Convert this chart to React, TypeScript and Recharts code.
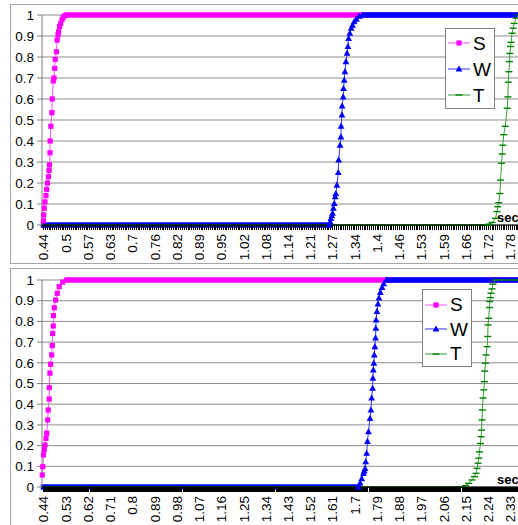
import React from "react";
import { LineChart, Line, XAxis, YAxis, CartesianGrid, Legend } from "recharts";

type Pt = [number, number];

const FONT = "Arial, 'Liberation Sans', sans-serif";

const yTicks = [0, 0.1, 0.2, 0.3, 0.4, 0.5, 0.6, 0.7, 0.8, 0.9, 1];
const yTickLabels = ["0", "0.1", "0.2", "0.3", "0.4", "0.5", "0.6", "0.7", "0.8", "0.9", "1"];

const topXLabels = [
  "0.44", "0.5", "0.57", "0.63", "0.7", "0.76", "0.82", "0.89", "0.95", "1.02", "1.08",
  "1.14", "1.21", "1.27", "1.34", "1.4", "1.46", "1.53", "1.59", "1.66", "1.72", "1.78",
];
const bottomXLabels = [
  "0.44", "0.53", "0.62", "0.71", "0.8", "0.89", "0.98", "1.07", "1.16", "1.25", "1.34",
  "1.43", "1.52", "1.61", "1.7", "1.79", "1.88", "1.97", "2.06", "2.15", "2.24", "2.33",
];

// top chart (seconds, share)
const topSRise: Pt[] = [
  [0.44, 0.02], [0.4405, 0.048], [0.442, 0.08], [0.444, 0.11], [0.447, 0.14], [0.449, 0.17],
  [0.4515, 0.2], [0.454, 0.23], [0.456, 0.26], [0.457, 0.286], [0.4585, 0.344], [0.459, 0.4],
  [0.461, 0.47], [0.464, 0.535], [0.465, 0.6], [0.468, 0.686], [0.47, 0.7], [0.472, 0.746],
  [0.4735, 0.789], [0.477, 0.825], [0.479, 0.88], [0.4815, 0.905], [0.483, 0.92], [0.486, 0.945],
  [0.489, 0.96], [0.493, 0.978], [0.4965, 0.99], [0.501, 0.997], [0.506, 1],
];
const topSHigh: Pt[] = [[0.506, 1], [2.03, 1]];
const topWLow: Pt[] = [[0.44, 0], [1.257, 0]];
const topWRise: Pt[] = [
  [1.257, 0], [1.26, 0.015], [1.262, 0.032], [1.2645, 0.045], [1.2666, 0.056], [1.269, 0.08],
  [1.2714, 0.103], [1.274, 0.135], [1.276, 0.15], [1.279, 0.19], [1.283, 0.25], [1.284, 0.31],
  [1.288, 0.38], [1.2905, 0.42], [1.291, 0.471], [1.2934, 0.524], [1.294, 0.567], [1.297, 0.61],
  [1.298, 0.65], [1.3, 0.69], [1.302, 0.73], [1.305, 0.778], [1.308, 0.818], [1.3105, 0.85],
  [1.3125, 0.889], [1.316, 0.913], [1.32, 0.937], [1.3236, 0.952], [1.3285, 0.968],
  [1.335, 0.98], [1.343, 0.995], [1.352, 1],
];
const topWHigh: Pt[] = [[1.352, 1], [2.03, 1]];
const topTLow: Pt[] = [[0.44, 0], [1.71, 0]];
const topTRise: Pt[] = [
  [1.71, 0], [1.7136, 0.004], [1.723, 0.012], [1.7326, 0.032], [1.737, 0.064], [1.739, 0.087],
  [1.742, 0.106], [1.745, 0.15], [1.747, 0.214], [1.75, 0.294], [1.7515, 0.338], [1.7535, 0.38],
  [1.756, 0.43], [1.7605, 0.47], [1.766, 0.556], [1.768, 0.61], [1.769, 0.68], [1.771, 0.73],
  [1.7726, 0.778], [1.7735, 0.817], [1.7755, 0.85], [1.777, 0.87], [1.78, 0.913], [1.783, 0.937],
  [1.786, 0.96], [1.792, 0.985], [1.8, 1],
];
const topTHigh: Pt[] = [[1.8, 1], [2.03, 1]];

// bottom chart
const botSRise: Pt[] = [
  [0.435, 0.058], [0.437, 0.098], [0.44, 0.155], [0.443, 0.18], [0.446, 0.203], [0.45, 0.235],
  [0.453, 0.26], [0.457, 0.324], [0.459, 0.372], [0.463, 0.425], [0.4635, 0.48], [0.466, 0.55],
  [0.469, 0.593], [0.473, 0.638], [0.4755, 0.683], [0.477, 0.742], [0.4795, 0.778], [0.48, 0.828],
  [0.4836, 0.866], [0.489, 0.903], [0.4957, 0.936], [0.5038, 0.968], [0.5175, 0.99], [0.5336, 1],
];
const botSHigh: Pt[] = [[0.5336, 1], [2.69, 1]];
const botWLow: Pt[] = [[0.44, 0], [1.7146, 0]];
const botWRise: Pt[] = [
  [1.7146, 0], [1.7214, 0.02], [1.7278, 0.04], [1.7347, 0.066], [1.738, 0.078], [1.7414, 0.09],
  [1.744, 0.122], [1.7478, 0.163], [1.751, 0.22], [1.755, 0.267], [1.7614, 0.332], [1.765, 0.372],
  [1.768, 0.43], [1.7718, 0.477], [1.773, 0.526], [1.7745, 0.566], [1.777, 0.598], [1.7786, 0.638],
  [1.781, 0.678], [1.7838, 0.72], [1.785, 0.767], [1.786, 0.807], [1.7895, 0.848], [1.7935, 0.884],
  [1.7975, 0.913], [1.803, 0.94], [1.81, 0.964], [1.8167, 0.982], [1.827, 1],
];
const botWHigh: Pt[] = [[1.827, 1], [2.69, 1]];
const botTLow: Pt[] = [[0.44, 0], [2.148, 0]];
const botTRise: Pt[] = [
  [2.148, 0.007], [2.161, 0.018], [2.1745, 0.034], [2.184, 0.05], [2.1906, 0.066], [2.1946, 0.09],
  [2.1987, 0.115], [2.2015, 0.139], [2.2043, 0.17], [2.2084, 0.21], [2.2108, 0.243], [2.2124, 0.275],
  [2.2148, 0.324], [2.216, 0.372], [2.2189, 0.43], [2.2217, 0.469], [2.2245, 0.509], [2.2257, 0.56],
  [2.2285, 0.598], [2.231, 0.638], [2.235, 0.678], [2.2378, 0.727], [2.239, 0.783], [2.2418, 0.815],
  [2.2446, 0.867], [2.2458, 0.896], [2.2486, 0.915], [2.251, 0.936], [2.2551, 0.957], [2.259, 0.98],
  [2.2689, 1],
];
const botTHigh: Pt[] = [[2.2689, 1], [2.69, 1]];

const seriesNames = ["S", "W", "T"];
const markerColors = ["#ff00ff", "#0000ff", "#008000"];
const lineColors = ["#ff4dff", "#3333ff", "#33a033"];

const toRows = (pts: Pt[]) => pts.map(([t, v]) => ({ t, v }));

const SquareDot = (p: any) =>
  p.cx == null ? <g key={p.index} /> : (
    <rect key={p.index} x={p.cx - 2.6} y={p.cy - 2.6} width={5.2} height={5.2} fill={markerColors[0]} />
  );
const TriDot = (p: any) =>
  p.cx == null ? <g key={p.index} /> : (
    <polygon
      key={p.index}
      points={`${p.cx},${p.cy - 3.6} ${p.cx + 3.4},${p.cy + 2.6} ${p.cx - 3.4},${p.cy + 2.6}`}
      fill={markerColors[1]}
    />
  );
const DashDot = (p: any) =>
  p.cx == null ? <g key={p.index} /> : (
    <rect key={p.index} x={p.cx - 3.5} y={p.cy - 0.7} width={7} height={1.4} fill={markerColors[2]} />
  );
const dots = [SquareDot, TriDot, DashDot];

function LegendBox({ rowH, padTop }: { rowH: number; padTop: number }) {
  return (
    <div
      style={{
        width: 50,
        boxSizing: "border-box",
        border: "1px solid #808080",
        background: "#fff",
        paddingTop: padTop,
        paddingLeft: 2,
        fontFamily: FONT,
      }}
    >
      {seriesNames.map((n, i) => (
        <div key={n} style={{ display: "flex", alignItems: "center", height: rowH }}>
          <svg width={22} height={12}>
            <line x1={0} x2={22} y1={6} y2={6} stroke={lineColors[i]} strokeWidth={1} />
            {i === 0 && <rect x={8.4} y={3.4} width={5.2} height={5.2} fill={markerColors[0]} />}
            {i === 1 && <polygon points="11,2.4 14.4,8.6 7.6,8.6" fill={markerColors[1]} />}
            {i === 2 && <rect x={7.5} y={5.3} width={7} height={1.4} fill={markerColors[2]} />}
          </svg>
          <span style={{ fontSize: 19, marginLeft: 3, lineHeight: 1, color: "#000" }}>{n}</span>
        </div>
      ))}
    </div>
  );
}

type ChartProps = {
  labels: string[];
  labelStep: number;
  perLabel: number;
  domain: [number, number];
  height: number;
  plotH: number;
  legendPos: { left: number; top: number; height: number; rowH: number; padTop: number };
  series: { low?: Pt[]; rise: Pt[]; high: Pt[] }[];
};

function StepChart({ labels, labelStep, perLabel, domain, height, plotH, legendPos, series }: ChartProps) {
  const minorStep = labelStep / perLabel;
  const ticks: number[] = [];
  for (let i = 0; 0.44 + i * minorStep <= domain[1]; i++) ticks.push(0.44 + i * minorStep);

  const XTick = (props: any) => {
    const { x, y, index } = props;
    if (index % perLabel !== 0) return <g />;
    const label = labels[index / perLabel];
    if (!label) return <g />;
    return (
      <text
        x={x}
        y={y}
        dy="0.36em"
        transform={`rotate(-90, ${x}, ${y})`}
        textAnchor="end"
        fontSize={13.5}
        fontFamily={FONT}
        fill="#000"
      >
        {label}
      </text>
    );
  };

  const lines: React.ReactNode[] = [];
  series.forEach((s, i) => {
    const bandW = i === 2 ? 1.5 : 5.5;
    const bandColor = i === 2 ? "#008000" : markerColors[i];
    if (s.low)
      lines.push(
        <Line key={`low${i}`} data={toRows(s.low)} dataKey="v" stroke={bandColor} strokeWidth={bandW}
          strokeLinecap="square" dot={false} activeDot={false} isAnimationActive={false} />
      );
    lines.push(
      <Line key={`high${i}`} data={toRows(s.high)} dataKey="v" stroke={bandColor} strokeWidth={bandW}
        strokeLinecap="butt" dot={false} activeDot={false} isAnimationActive={false} />
    );
    lines.push(
      <Line key={`rise${i}`} data={toRows(s.rise)} dataKey="v" name={seriesNames[i]} stroke={lineColors[i]}
        strokeWidth={1} dot={dots[i]} activeDot={false} isAnimationActive={false} />
    );
  });

  return (
    <LineChart width={600} height={height} margin={{ top: 15, right: 0, bottom: 0, left: 0 }}>
      <CartesianGrid vertical={false} stroke="#8c8c8c" />
      <XAxis
        type="number"
        dataKey="t"
        domain={domain}
        ticks={ticks}
        interval={0}
        height={height - 15 - plotH}
        tickSize={5}
        tickMargin={4}
        axisLine={{ stroke: "#000" }}
        tickLine={{ stroke: "#000", shapeRendering: "crispEdges" }}
        tick={XTick}
      />
      <YAxis
        type="number"
        domain={[0, 1]}
        ticks={yTicks}
        interval={0}
        width={42}
        tickSize={5}
        tickMargin={3}
        axisLine={{ stroke: "#808080" }}
        tickLine={{ stroke: "#808080" }}
        tick={{ fontSize: 13.5, fontFamily: FONT, fill: "#000" }}
        tickFormatter={(v: number) => yTickLabels[yTicks.indexOf(v)] ?? String(v)}
      />
      {lines}
      <Legend
        layout="vertical"
        align="center"
        verticalAlign="middle"
        wrapperStyle={{ left: legendPos.left, top: legendPos.top, width: 50, height: legendPos.height }}
        content={() => <LegendBox rowH={legendPos.rowH} padTop={legendPos.padTop} />}
      />
    </LineChart>
  );
}

export default function App() {
  return (
    <div
      style={{
        position: "fixed",
        left: 0,
        top: 0,
        width: 518,
        height: 525,
        overflow: "hidden",
        background: "#fff",
        fontFamily: FONT,
      }}
    >
      <div style={{ position: "absolute", left: 10, top: 4, width: 600, height: 258, border: "1px solid #a6a6a6" }} />
      <div style={{ position: "absolute", left: 10, top: 268, width: 600, height: 300, border: "1px solid #a6a6a6" }} />

      <div style={{ position: "absolute", left: 0, top: 0 }}>
        <StepChart
          labels={topXLabels}
          labelStep={0.0636}
          perLabel={12}
          domain={[0.4357, 2.0314]}
          height={263}
          plotH={210}
          legendPos={{ left: 445, top: 28, height: 76, rowH: 26, padTop: 1 }}
          series={[
            { rise: topSRise, high: topSHigh },
            { low: topWLow, rise: topWRise, high: topWHigh },
            { low: topTLow, rise: topTRise, high: topTHigh },
          ]}
        />
      </div>
      <div style={{ position: "absolute", left: 0, top: 265 }}>
        <StepChart
          labels={bottomXLabels}
          labelStep={0.09}
          perLabel={22}
          domain={[0.4339, 2.6921]}
          height={262}
          plotH={207}
          legendPos={{ left: 422, top: 24, height: 77, rowH: 24.5, padTop: 2.5 }}
          series={[
            { rise: botSRise, high: botSHigh },
            { low: botWLow, rise: botWRise, high: botWHigh },
            { low: botTLow, rise: botTRise, high: botTHigh },
          ]}
        />
      </div>

      <span style={{ position: "absolute", left: 497, top: 211, fontSize: 13, fontWeight: "bold", lineHeight: "13px" }}>
        sec
      </span>
      <span style={{ position: "absolute", left: 497, top: 473, fontSize: 13, fontWeight: "bold", lineHeight: "13px" }}>
        sec
      </span>
    </div>
  );
}
